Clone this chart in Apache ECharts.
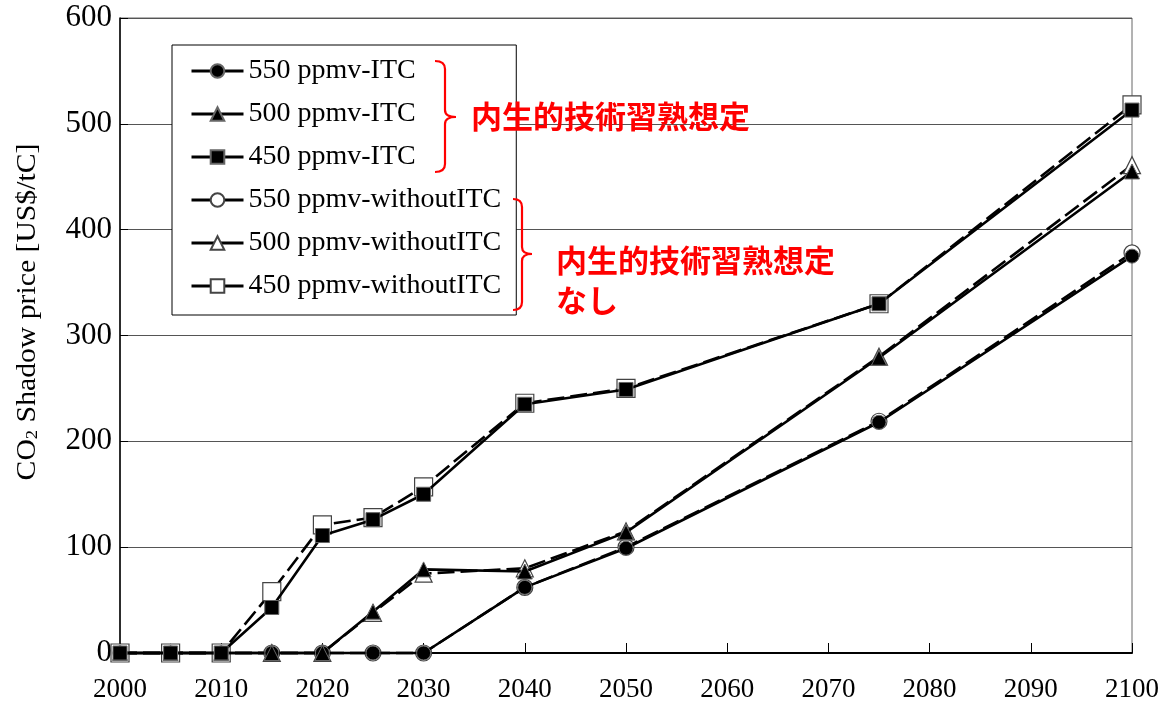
<!DOCTYPE html>
<html>
<head>
<meta charset="utf-8">
<script src="https://cdn.jsdelivr.net/npm/echarts@6/dist/echarts.min.js"></script>
<style>
  html, body { margin: 0; padding: 0; background: #fff; }
  #chart { width: 1160px; height: 701px; }
</style>
</head>
<body>
<div id="chart"></div>
<script>
// Model years
const years = [2000, 2005, 2010, 2015, 2020, 2025, 2030, 2040, 2050, 2075, 2100];

// CO2 shadow price [US$/tC], with induced technological change (ITC)
const itc550 = [0, 0, 0, 0, 0, 0, 0, 62, 99, 218, 375];
const itc500 = [0, 0, 0, 0, 0, 39, 79, 77, 114, 279, 455];
const itc450 = [0, 0, 0, 43, 111, 126, 150, 235, 249, 330, 513];

// CO2 shadow price [US$/tC], without ITC
const wo550 = [0, 0, 0, 0, 0, 0, 0, 62, 100, 219, 378];
const wo500 = [0, 0, 0, 0, 0, 38, 75, 80, 115, 280, 461];
const wo450 = [0, 0, 0, 58, 121, 128, 157, 236, 250, 330, 518];

const names = [
  '550 ppmv-ITC', '500 ppmv-ITC', '450 ppmv-ITC',
  '550 ppmv-withoutITC', '500 ppmv-withoutITC', '450 ppmv-withoutITC'
];
const groupLabel = '内生的技術習熟想定';
const groupLabelNone = 'なし';

const serif = '"Liberation Serif", "Times New Roman", serif';
const jp = '"Noto Sans CJK JP", sans-serif';

function pairs(vals) {
  return years.map((y, i) => [y, vals[i]]);
}

function solidSeries(name, vals, symbol, size) {
  return {
    name, type: 'line', data: pairs(vals), clip: false,
    symbol, symbolSize: size,
    lineStyle: { color: '#000', width: 2.6, type: 'solid' },
    itemStyle: { color: '#000', borderColor: '#666', borderWidth: 1 },
    emphasis: { disabled: true },
    z: 3
  };
}

function dashedSeries(name, vals, symbol, size) {
  return {
    name, type: 'line', data: pairs(vals), clip: false,
    symbol, symbolSize: size,
    lineStyle: { color: '#000', width: 2.6, type: [17, 6] },
    itemStyle: { color: '#fff', borderColor: '#444', borderWidth: 1.2 },
    emphasis: { disabled: true },
    z: 2
  };
}

// Red curly bracket: hooks at top/bottom, point in the middle
function brace(x0, xv, xt, yTop, yMid, yBot) {
  const st = { stroke: '#ff0000', lineWidth: 2.2, fill: 'none' };
  const r = 8;
  const parts = [
    { type: 'bezierCurve', shape: { x1: x0, y1: yTop, cpx1: xv, cpy1: yTop, x2: xv, y2: yTop + r } },
    { type: 'line', shape: { x1: xv, y1: yTop + r, x2: xv, y2: yMid - 7 } },
    { type: 'bezierCurve', shape: { x1: xv, y1: yMid - 7, cpx1: xv, cpy1: yMid, x2: xt, y2: yMid } },
    { type: 'bezierCurve', shape: { x1: xt, y1: yMid, cpx1: xv, cpy1: yMid, x2: xv, y2: yMid + 7 } },
    { type: 'line', shape: { x1: xv, y1: yMid + 7, x2: xv, y2: yBot - r } },
    { type: 'bezierCurve', shape: { x1: xv, y1: yBot - r, cpx1: xv, cpy1: yBot, x2: x0, y2: yBot } }
  ];
  return parts.map(p => Object.assign(p, { z: 20, silent: true, style: Object.assign({}, st) }));
}

const chart = echarts.init(document.getElementById('chart'), null, { renderer: 'canvas' });

chart.setOption({
  animation: false,
  backgroundColor: '#fff',
  grid: {
    left: 120, right: 28, top: 18, bottom: 48,
    outerBoundsMode: 'none', containLabel: false,
    show: true, borderColor: '#666', borderWidth: 1
  },
  xAxis: {
    type: 'value', min: 2000, max: 2100, interval: 10,
    axisLine: { lineStyle: { color: '#000', width: 2 } },
    axisTick: { inside: true, length: 10, lineStyle: { color: '#000', width: 1 } },
    axisLabel: { color: '#000', fontFamily: serif, fontSize: 27, margin: 23,
                 formatter: v => String(v) },
    splitLine: { show: false }
  },
  yAxis: {
    type: 'value', min: 0, max: 600, interval: 100,
    axisLine: { show: true, lineStyle: { color: '#000', width: 1.5 } },
    axisTick: { show: true, inside: true, length: 8, lineStyle: { color: '#000' } },
    axisLabel: { color: '#000', fontFamily: serif, fontSize: 31, margin: 8 },
    splitLine: { show: true, lineStyle: { color: '#555', width: 1 } }
  },
  legend: {
    orient: 'vertical', left: 172, top: 45,
    data: names,
    backgroundColor: '#fff', borderColor: '#000', borderWidth: 1,
    padding: [12, 15, 15, 18],
    itemWidth: 52, itemHeight: 17, itemGap: 15,
    lineStyle: { type: 'solid', width: 3 },
    textStyle: { color: '#000', fontFamily: serif, fontSize: 28, lineHeight: 27 },
    selectedMode: false
  },
  series: [
    dashedSeries(names[3], wo550, 'circle', 16),
    dashedSeries(names[4], wo500, 'triangle', 17),
    dashedSeries(names[5], wo450, 'rect', 18),
    solidSeries(names[0], itc550, 'circle', 14),
    solidSeries(names[1], itc500, 'triangle', 15),
    solidSeries(names[2], itc450, 'rect', 14)
  ],
  graphic: [
    // Y-axis title with subscript, reading bottom to top
    {
      type: 'text', x: 28, y: 312, rotation: Math.PI / 2, scaleX: 1.1, silent: true,
      style: {
        text: '{n|CO}{s|2}{n| Shadow price [US$/tC]}',
        align: 'center', verticalAlign: 'middle',
        rich: {
          n: { fontFamily: serif, fontSize: 27, fill: '#000', lineHeight: 27, verticalAlign: 'top' },
          s: { fontFamily: serif, fontSize: 17, fill: '#000', lineHeight: 17, verticalAlign: 'bottom', padding: [14, 0, 0, 0] }
        }
      }
    },
    ...brace(435, 445, 456, 61, 117, 172),
    {
      type: 'text', z: 20, left: 471, top: 101, silent: true,
      style: { text: groupLabel, fill: '#ff0000', font: 'bold 31px ' + jp }
    },
    ...brace(513, 522, 532, 199, 254, 310),
    {
      type: 'text', z: 20, left: 556, top: 240, silent: true,
      style: { text: groupLabel + '\n' + groupLabelNone, fill: '#ff0000', font: 'bold 31px ' + jp, lineHeight: 40 }
    }
  ]
});
</script>
</body>
</html>
